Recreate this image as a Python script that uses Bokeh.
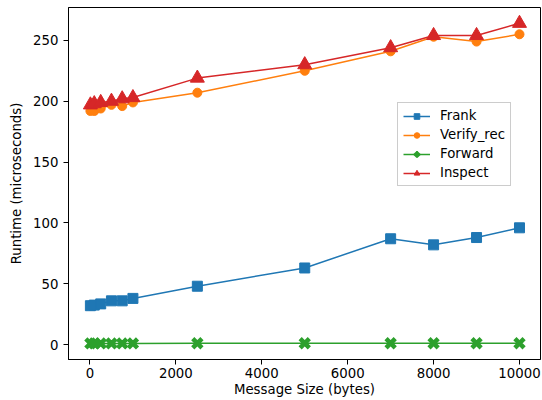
from bokeh.plotting import figure
from bokeh.embed import file_html
from bokeh.resources import INLINE
from bokeh.models import Range1d, FixedTicker

sizes = [10, 100, 250, 500, 750, 1000, 2500, 5000, 7000, 8000, 9000, 10000]
frank = [32, 32.5, 33.5, 36, 36, 38, 48, 63, 87, 82, 88, 96]
verify_rec = [192, 192, 194, 197, 196, 199, 207, 225, 241, 253, 249, 255]
forward = [1, 1, 1, 1, 1, 1, 1.2, 1.2, 1.2, 1.2, 1.1, 1.1]
inspect = [197, 198, 199, 200, 202, 203, 219, 230, 244, 254, 254, 264]
x_ticks = [0, 2000, 4000, 6000, 8000, 10000]
y_ticks = [0, 50, 100, 150, 200, 250]

FONT = "DejaVu Sans"
FS = "13.3px"
p = figure(width=542, height=400, output_backend="svg", toolbar_location=None,
           x_range=Range1d(-500, 10489), y_range=Range1d(-12.2, 277),
           min_border_left=68, min_border_right=2, min_border_top=7, min_border_bottom=41)
p.frame_width = 472
p.frame_height = 352
p.grid.visible = False
p.outline_line_color = "black"
p.outline_line_width = 1

for ax in (p.xaxis[0], p.yaxis[0]):
    ax.axis_line_color = "black"
    ax.major_tick_line_color = "black"
    ax.major_tick_out = 5
    ax.major_tick_in = 0
    ax.minor_tick_line_color = None
    ax.major_label_text_font = FONT
    ax.major_label_text_font_size = FS
    ax.major_label_text_color = "black"
    ax.axis_label_text_font = FONT
    ax.axis_label_text_font_size = FS
    ax.axis_label_text_font_style = "normal"
    ax.axis_label_text_color = "black"
p.xaxis.ticker = FixedTicker(ticks=x_ticks)
p.yaxis.ticker = FixedTicker(ticks=y_ticks)
p.xaxis.axis_label = "Message Size (bytes)"
p.yaxis.axis_label = "Runtime (microseconds)"
p.xaxis.major_label_standoff = 3
p.xaxis.axis_label_standoff = 1
p.yaxis.axis_label_standoff = 6

series = [
    ("Frank", frank, "#1f77b4", "square", 10, 1),
    ("Verify_rec", verify_rec, "#ff7f0e", "circle", 9, 1),
    ("Forward", forward, "#2ca02c", "x", 13, 4.5),
    ("Inspect", inspect, "#d62728", "triangle", 14, 1),
]
for name, ys, color, marker, size, lw in series:
    p.line(sizes, ys, line_color=color, line_width=1.5, legend_label=name)
    p.scatter(sizes, ys, marker=marker, size=size, fill_color=color, line_color=color,
              line_width=lw, legend_label=name)

lg = p.legend[0]
lg.location = (329, 173)
lg.label_text_font = FONT
lg.label_text_font_size = FS
lg.label_text_color = "black"
lg.border_line_color = "#cccccc"
lg.border_line_alpha = 1
lg.background_fill_alpha = 0.8
lg.glyph_width = 27
lg.glyph_height = 14
lg.spacing = 4
lg.padding = 5
lg.margin = 0
lg.label_standoff = 10

open("out.html", "w").write(file_html(p, INLINE))
